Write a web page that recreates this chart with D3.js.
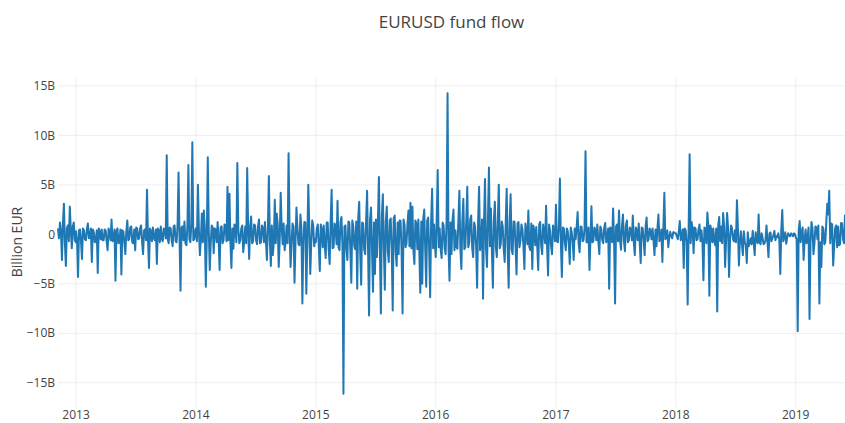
<!DOCTYPE html>
<html>
<head>
<meta charset="utf-8">
<script src="https://cdn.jsdelivr.net/npm/d3@7"></script>
<style>
  body { margin: 0; background: #fff; }
  text { font-family: "Open Sans", verdana, arial, sans-serif; fill: #444; }
</style>
</head>
<body>
<div id="my_dataviz"></div>
<script>
// fund flow in billion EUR, one reading every 6 days from the start of each block
const flows2012 = [0.6, 1.2, -2.6, 3.1, -3.2, 0.9, 2.8, -1.4, 1.2, -0.8];
const flows2013 = [0.3, -4.3, 0.5, -2.5, 0.4, -0.6, 1.1, -0.3, -2.8, 0.2,
  -0.7, -3.9, 0.3, 0.5, -0.6, 0.4, -1.6, 0.2, 1.5, -0.5,
  -4.7, 0.6, -0.8, -4.05, 0.3, -2.0, 1.4, -0.5, 0.8, -0.9,
  -1.6, 0.6, -0.4, 0.9, -2.0, 0.5, 4.5, -3.4, 0.3, 0.7,
  -0.6, -3.0, 0.4, 0.8, -0.7, 0.5, 8.0, -0.9, 0.6, -1.2,
  0.9, -0.8, 6.25, -5.7, 0.8, 1.3, -1.1, 7.0, -0.8, 9.3, -0.5];
const flows2014 = [0.6, 5.0, -2.1, 2.1, 2.4, -5.3, 7.8, -3.6, 0.9, -1.9,
  0.5, 1.25, -3.6, 0.8, -0.6, 0.9, 4.8, 4.1, -3.4, -1.45,
  0.7, 7.2, -0.9, 0.6, -1.8, 0.8, 6.7, -2.5, 1.8, -0.7,
  0.9, -1.0, 1.5, -0.8, 0.6, 1.25, -2.6, 5.9, -3.2, -2.1,
  3.5, 2.1, -3.3, 4.2, -1.0, -1.6, 0.9, 8.2, -3.3, 1.1,
  -4.9, 2.7, -1.0, 2.0, -7.0, 1.25, -6.0, 5.0, -4.0, 1.4, -1.2];
const flows2015 = [-0.8, 1.0, -3.7, 0.5, 0.9, -2.4, 1.2, -3.0, 4.5, -1.3,
  0.8, 3.4, -1.6, 1.75, -16.1, 0.9, -2.6, 1.2, -4.9, 0.8,
  -1.5, -5.5, 3.3, -5.1, 1.1, -2.0, 4.4, -8.2, 2.7, -5.8,
  -4.0, -2.3, 5.8, -8.0, 4.05, -5.6, 2.8, -2.8, 1.6, -7.7,
  1.9, -3.2, -2.0, 1.35, -8.0, 1.0, -0.95, 2.4, 3.2, 2.8,
  -3.0, 1.1, 1.5, -5.9, -5.0, 2.5, -5.3, 1.7, -6.35, 4.6, 1.0];
const flows2016 = [-2.3, 6.5, 0.6, -2.4, 0.9, -2.0, 14.25, -4.7, -2.0, 2.5,
  0.4, -1.45, 4.4, -3.5, 3.6, -1.3, 4.8, -0.8, 1.9, -2.3,
  0.75, -5.4, 4.8, -0.9, -6.5, 5.6, -3.3, 6.75, 2.6, -5.4,
  3.3, -2.3, 5.0, -1.0, 0.8, -2.8, 4.6, -5.4, 4.05, -2.0,
  1.25, -4.05, 1.25, -0.6, 0.5, -3.5, 0.3, 2.4, -1.6, -3.5,
  0.4, 0.75, -3.6, 1.25, -2.0, 0.3, 2.9, -4.15, 0.4, -2.0, 0.5];
const flows2017 = [3.0, -0.8, 5.65, -4.3, 0.6, -1.6, 0.3, -3.0, 0.2, -2.6,
  -0.5, 2.25, -1.8, 0.75, -0.6, 8.4, -0.8, -3.6, 2.85, -0.7,
  0.4, 1.0, -2.0, 0.5, -0.9, 1.15, -0.4, -5.5, 0.6, 2.6,
  -7.0, 1.0, 2.4, -1.55, 2.0, -1.7, 1.4, -0.6, 0.5, 1.9,
  -2.1, 0.4, 1.1, -2.9, 0.6, -2.1, 1.7, -0.5, 0.3, 0.6,
  -2.1, -1.2, 2.0, -0.4, -2.8, 4.2, -0.3, -1.3, 0.25, -0.4, 0.2];
const flows2018 = [0.1, -0.5, 1.35, -0.3, -3.4, 0.4, -7.1, 8.1, 1.25, -1.9,
  0.6, -0.5, 1.0, 0.4, -4.65, 0.6, 2.2, -6.2, 0.5, 0.6,
  -1.1, -7.8, 1.75, 0.8, 2.15, -3.3, 2.15, -4.3, 0.9, -0.5,
  0.4, 3.45, -3.15, 0.3, -2.1, -0.8, -2.9, -1.2, -0.4, 0.35,
  -2.1, -0.6, 2.0, -1.0, -0.3, -0.9, 0.9, -2.3, 0.2, -0.4,
  0.35, -0.2, 0.1, -4.0, 2.45, -0.3, -0.95, 0.1, -0.2, 0.0, 0.1];
const flows2019 = [-0.3, -9.8, 1.35, 0.2, -2.6, 0.5, -0.4, -8.55, 1.25, -2.0,
  0.8, -0.5, -7.0, -3.3, 0.6, -0.8, 3.1, 4.4, 1.1, -3.15,
  0.6, -1.3, -1.1, 1.15, -0.5, 2.0];

// readings taken 3 days after each of the ones above
const mid2012 = [-0.4, 0.3, 1.1, -0.9, 0.6, -0.7, 0.4, 0.8, -0.6];
const mid2013 = [-0.6, 0.4, -0.7, 0.6, -0.5, 0.5, -0.4, 0.6, 0.5, -0.8,
  0.4, 0.6, -0.5, -0.6, 0.5, -0.7, 0.6, -0.6, -0.7, 0.5,
  0.3, -0.9, 0.5, 0.4, -0.8, 0.3, -0.6, 0.7, -0.8, 0.5,
  0.7, -0.5, 0.6, -0.8, 0.4, -0.6, -0.5, 0.6, -0.7, -0.4,
  0.5, 0.6, -0.8, -0.5, 0.6, -0.4, -0.5, 0.7, -0.6, 0.8,
  -0.7, 0.9, -0.4, 0.7, -0.6, -0.9, 0.8, -0.5, 1.0, -0.6, 0.4];
const mid2014 = [-0.7, 0.4, -0.5, -0.8, 0.6, -0.4, 0.5, -0.9, 0.7, 0.6,
  -0.8, -0.5, 0.7, -0.9, 1.0, -0.7, -0.6, -0.8, 0.6, 1.0,
  -0.8, 0.5, -0.6, 0.9, -0.7, -0.9, 0.4, 0.8, -0.9, 1.0,
  -0.6, 0.8, -0.9, 0.9, -0.8, -0.7, 0.7, -0.6, 0.9, -0.8,
  -0.9, 1.0, -0.6, 0.7, 1.1, -0.8, -0.9, 0.6, -1.0, 0.8,
  -0.9, 0.6, -1.1, 0.7, -0.8, 1.2, -0.7, 0.8, -1.0, 0.9, -0.5];
const mid2015 = [0.6, -1.2, 1.0, -1.3, -1.1, 1.2, -1.5, 1.3, -1.4, 1.1,
  -1.0, -1.3, 1.2, -1.1, 0.8, -1.5, 1.3, -1.6, 1.4, -1.2,
  1.3, 1.6, -1.8, 1.2, -1.5, 1.4, -1.7, 1.5, -1.6, 1.2,
  1.5, 1.3, -1.6, 1.8, -1.4, 1.3, -1.7, 1.4, -1.5, 1.6,
  -1.7, 1.2, 1.4, -1.6, 1.5, -1.3, 1.1, -1.2, -1.4, -1.6,
  1.4, -1.5, -1.7, 1.3, 1.6, -1.5, 1.4, -1.6, 1.3, -1.4, -1.2];
const mid2016 = [1.4, -1.3, -1.5, 1.2, -1.4, 1.3, -1.5, 1.2, 1.4, -1.6,
  -1.3, 1.5, -1.4, 1.3, -1.5, 1.4, -1.3, 1.5, -1.4, 1.2,
  -1.3, 1.4, -1.6, 1.5, 1.3, -1.4, 1.5, -1.2, -1.6, 1.4,
  -1.3, 1.5, -1.4, 1.3, -1.5, 1.2, -1.4, 1.3, -1.5, 1.3,
  -1.2, 1.1, -1.3, 1.0, -1.2, 1.1, -1.0, -1.3, 1.1, 0.9,
  -1.1, -1.2, 1.0, -1.1, 1.0, -0.9, -1.2, 1.0, -1.1, 0.9, -0.7];
const mid2017 = [-0.7, 0.8, -0.9, 0.7, -0.8, 0.6, -0.9, 0.7, -0.8, 0.6,
  0.7, -0.9, 0.8, -0.7, 0.6, -0.8, 0.7, -0.6, -0.8, 0.7,
  -0.6, -0.7, 0.8, -0.6, 0.7, -0.8, 0.6, 0.7, -0.8, -0.6,
  0.8, -0.7, -0.6, 0.8, -0.7, 0.9, -0.8, 0.7, -0.6, -0.8,
  0.7, -0.6, -0.8, 0.7, -0.6, 0.8, -0.7, 0.6, -0.5, -0.6,
  0.5, 0.6, -0.7, 0.5, 0.6, -0.5, 0.4, -0.3, -0.2, 0.2, 0.1];
const mid2018 = [-0.2, 0.3, -0.6, 0.5, 0.6, -0.8, 0.7, -0.9, 0.6, 0.7,
  -0.6, 0.5, -0.7, -0.8, 0.7, -0.9, 0.8, 0.9, -0.8, -0.7,
  0.6, 0.9, -0.7, -0.9, 0.8, -0.6, 0.7, -0.5, 0.6, -0.7,
  -0.8, 0.6, -0.7, -0.9, 0.3, -1.1, 0.2, -0.9, -1.0, -0.8,
  0.2, -0.9, -0.8, 0.1, -1.0, -0.6, -0.8, 0.1, -0.7, -0.1,
  -0.6, -0.3, -0.5, 0.4, -0.7, 0.2, -0.3, -0.1, 0.1, -0.2, 0.0];
const mid2019 = [-0.5, 0.4, -0.8, 0.7, -0.6, -0.9, 0.7, -0.8, 0.6, -0.9,
  0.7, 0.9, -0.8, 0.8, -1.0, 1.2, 2.0, -0.9, 1.0, -1.1,
  0.9, 0.8, -1.0, 1.1, -0.9];

const blockStarts = ["2012-11-07", "2013-01-01", "2014-01-01", "2015-01-01",
  "2016-01-01", "2017-01-01", "2018-01-01", "2019-01-01"];
const blocks = [flows2012, flows2013, flows2014, flows2015,
  flows2016, flows2017, flows2018, flows2019];
const midBlocks = [mid2012, mid2013, mid2014, mid2015,
  mid2016, mid2017, mid2018, mid2019];

const yTicks = [-15, -10, -5, 0, 5, 10, 15];
const xTickYears = [2013, 2014, 2015, 2016, 2017, 2018, 2019];

// set the dimensions and margins of the graph
const W = 845, H = 423;
const margin = {top: 77, right: 0, bottom: 16, left: 58};

const parse = d3.timeParse("%Y-%m-%d");

// turn the blocks into dated points
const data = [];
blocks.forEach((vals, b) => {
  const start = parse(blockStarts[b]);
  vals.forEach((v, i) => data.push({date: d3.timeDay.offset(start, 6 * i), value: v}));
  midBlocks[b].forEach((v, i) => data.push({date: d3.timeDay.offset(start, 6 * i + 3), value: v}));
});
data.sort((a, b) => a.date - b.date);

const svg = d3.select("#my_dataviz")
  .append("svg")
  .attr("width", W)
  .attr("height", H);

const x = d3.scaleTime()
  .domain(d3.extent(data, d => d.date))
  .range([margin.left, W - margin.right]);

const y = d3.scaleLinear()
  .domain([-17.45, 15.9])
  .range([H - margin.bottom, margin.top]);

// grid lines
svg.append("g")
  .selectAll("line")
  .data(yTicks)
  .join("line")
    .attr("x1", margin.left)
    .attr("x2", W - margin.right)
    .attr("y1", d => y(d))
    .attr("y2", d => y(d))
    .attr("stroke", "#eee")
    .attr("stroke-width", 1);

svg.append("g")
  .selectAll("line")
  .data(xTickYears)
  .join("line")
    .attr("x1", d => x(new Date(d, 0, 1)))
    .attr("x2", d => x(new Date(d, 0, 1)))
    .attr("y1", margin.top)
    .attr("y2", H - margin.bottom)
    .attr("stroke", "#eee")
    .attr("stroke-width", 1);

// the flow line
svg.append("path")
  .datum(data)
  .attr("fill", "none")
  .attr("stroke", "#1f77b4")
  .attr("stroke-width", 2)
  .attr("stroke-linejoin", "round")
  .attr("d", d3.line().x(d => x(d.date)).y(d => y(d.value)));

// y tick labels
const fmt = d => d === 0 ? "0" : (d < 0 ? "\u2212" : "") + Math.abs(d) + "B";
svg.append("g")
  .selectAll("text")
  .data(yTicks)
  .join("text")
    .attr("x", margin.left - 3)
    .attr("y", d => y(d))
    .attr("dy", "0.35em")
    .attr("text-anchor", "end")
    .style("font-size", "12px")
    .text(fmt);

// x tick labels
svg.append("g")
  .selectAll("text")
  .data(xTickYears)
  .join("text")
    .attr("x", d => x(new Date(d, 0, 1)))
    .attr("y", 419)
    .attr("text-anchor", "middle")
    .style("font-size", "12px")
    .text(d => d);

// axis title
svg.append("text")
  .attr("transform", `translate(22,${(margin.top + H - margin.bottom) / 2}) rotate(-90)`)
  .attr("text-anchor", "middle")
  .style("font-size", "14px")
  .text("Billion EUR");

// chart title
svg.append("text")
  .attr("x", (margin.left + W - margin.right) / 2)
  .attr("y", 28)
  .attr("text-anchor", "middle")
  .style("font-size", "17px")
  .text("EURUSD fund flow");
</script>
</body>
</html>
